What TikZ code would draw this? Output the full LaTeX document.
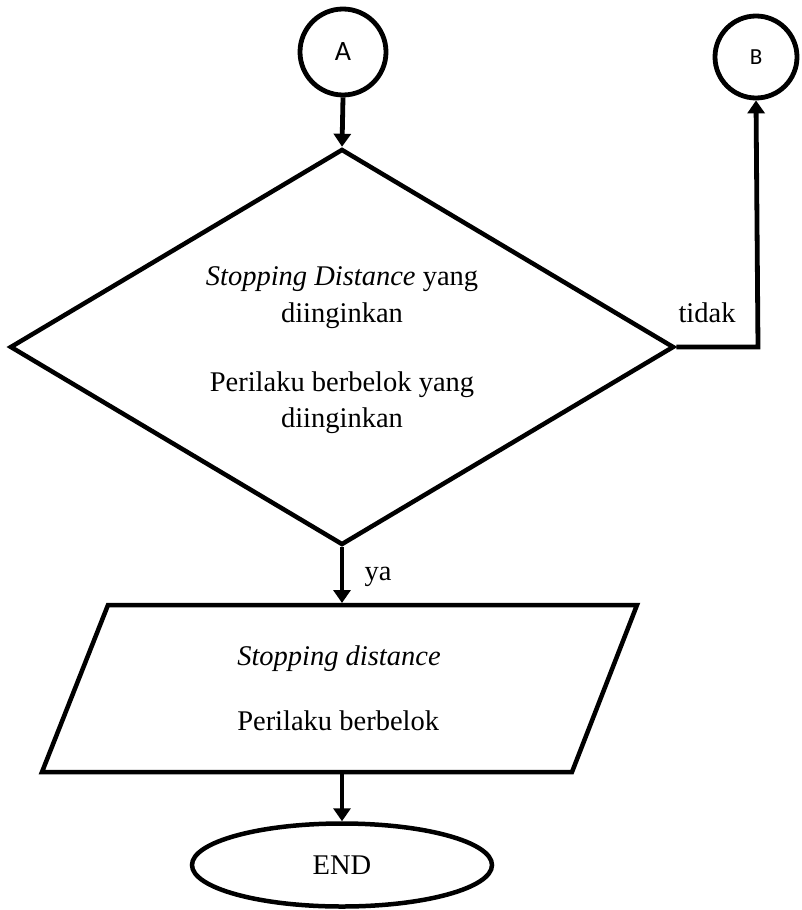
\documentclass[tikz,border=0pt]{standalone}
\usepackage{fontspec}
\setmainfont{Liberation Serif}
\newfontfamily\labelfont{Carlito}
\usetikzlibrary{arrows.meta,shapes.geometric}
\begin{document}
\begin{tikzpicture}[x=1pt,y=-1pt,
  line width=4.5pt,
  flow/.style={-{Triangle[length=13pt,width=17pt]}, line width=4.8pt},
  connector/.style={circle, draw, line width=4.8pt, inner sep=0pt, minimum size=86pt},
  terminal/.style={ellipse, draw, inner sep=0pt, minimum width=300pt, minimum height=83pt, font=\fontsize{28.5}{34}\selectfont},
  txt/.style={inner sep=0pt, anchor=base west, font=\fontsize{28.5}{34}\selectfont},
  ctxt/.style={inner sep=0pt, anchor=base, font=\fontsize{28.5}{34}\selectfont}]
\useasboundingbox (0,0) rectangle (802,910);

% connectors
\node[connector, font=\labelfont\fontsize{28}{32}\selectfont] (A) at (343,52) {A};
\node[connector, minimum size=82pt, font=\labelfont\fontsize{23}{27}\selectfont] (B) at (756,57) {B};

% decision
\node[diamond, draw, inner sep=0pt, minimum width=664pt, minimum height=396pt] (dec) at (342,347) {};
\node[ctxt] (d1) at (342,285) {\textit{Stopping Distance} yang};
\node[ctxt] (d2) at (342,322) {diinginkan};
\node[ctxt] (d3) at (342,391) {Perilaku berbelok yang};
\node[ctxt] (d4) at (342,427) {diinginkan};

% output parallelogram
\coordinate (p1) at (108,605);
\coordinate (p2) at (637,605);
\coordinate (p3) at (572,772);
\coordinate (p4) at (42,772);
\draw[line join=miter] (p1) -- (p2) -- (p3) -- (p4) -- cycle;
\coordinate (ptop) at (342,603);
\coordinate (pbot) at (342,772);
\node[txt] (o1) at (235,665) {\textit{Stopping distance}};
\node[txt] (o2) at (235,730) {Perilaku berbelok};

% end
\node[terminal] (E) at (342,865) {END};

% flow lines
\draw[flow] (A.south) -- (dec.north);
\draw[flow] (dec.south) -- (ptop);
\node[ctxt] (ya) at (378,580) {ya};
\coordinate (bend) at (758,347);
\draw[flow, line join=miter] (dec.east) -- (bend) -- (B.south);
\node[ctxt] (tidak) at (707,322) {tidak};
\draw[flow] (pbot) -- (E.north);
\end{tikzpicture}
\end{document}
